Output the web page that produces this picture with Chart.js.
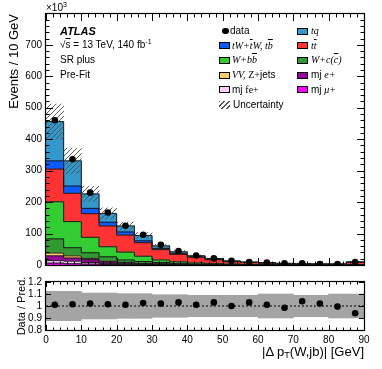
<!DOCTYPE html>
<html><head><meta charset="utf-8">
<script src="https://cdn.jsdelivr.net/npm/chart.js@4/dist/chart.umd.min.js"></script>
<style>
html,body{margin:0;padding:0;background:#fff;}
body{width:382px;height:369px;position:relative;overflow:hidden;font-family:"Liberation Sans",Arial,Helvetica,sans-serif;color:#000;}
canvas{position:absolute;left:0;}
#main{top:0;}
#ratio{top:270px;}
.t{position:absolute;white-space:nowrap;font-size:10px;line-height:12px;}
.m{font-family:"Liberation Serif","Times New Roman",serif;font-style:italic;}
.r{font-family:"Liberation Serif","Times New Roman",serif;}
.ol{text-decoration:overline;}
.box{position:absolute;width:11px;height:7px;border:1px solid #000;box-sizing:border-box;}
sup{font-size:70%;vertical-align:top;position:relative;top:-3px;}
sub{font-size:70%;vertical-align:bottom;position:relative;top:4px;}
</style></head>
<body>
<canvas id="main" width="382" height="280"></canvas>
<canvas id="ratio" width="382" height="99"></canvas>

<div class="t" style="left:46px;top:2px;">×10<sup>3</sup></div>
<div class="t" style="left:60px;top:25px;font-size:11px;font-weight:bold;font-style:italic;">ATLAS</div>
<div class="t" style="left:60px;top:39px;">√<span class="ol">s</span> = 13 TeV, 140 fb<sup>-1</sup></div>
<div class="t" style="left:60px;top:54px;">SR plus</div>
<div class="t" style="left:60px;top:69px;">Pre-Fit</div>

<div id="legend"></div>
<div class="t" style="right:18px;top:344px;font-size:13px;line-height:15px;">|Δ p<sub>T</sub>(W,jb)| [GeV]</div>

<script>
// ---------- data (units of 10^3 events) ----------
const binCenters = [2.5,7.5,12.5,17.5,22.5,27.5,32.5,37.5,42.5,47.5,52.5,57.5,62.5,67.5,72.5,77.5,82.5,87.5];
const xTickValues = [0,10,20,30,40,50,60,70,80,90];
const xTickLabels = ['0','10','20','30','40','50','60','70','80','90'];
const yTickValues = [0,100,200,300,400,500,600,700];
const yTickLabels = ['0','100','200','300','400','500','600','700'];
const ratioTickValues = [0.8,0.9,1.0,1.1,1.2];
const ratioTickLabels = ['0.8','0.9','1','1.1','1.2'];

const mjMu = [6,4,3,2,1,1,0.7,0.5,0.3,0.2,0.15,0.1,0.1,0.08,0.06,0.05,0.04,0.1];
const mjFe = [8,8,5,3,2,1,0.8,0.5,0.3,0.2,0.15,0.1,0.1,0.08,0.06,0.05,0.04,0.1];
const mjE  = [15,10,9,5,3,2,1.5,1,0.6,0.4,0.3,0.2,0.15,0.1,0.1,0.08,0.06,0.15];
const vvZjets = [9,7,4,2,2,1,0.8,0.5,0.3,0.2,0.15,0.1,0.1,0.08,0.06,0.05,0.04,0.1];
const wc   = [45,26,18,14,8,6,4,2.5,1.5,1,0.6,0.4,0.3,0.2,0.15,0.12,0.1,0.3];
const wbb  = [118,83,49,32,25,17,8,5,3.5,2.2,1.4,1.0,0.7,0.5,0.4,0.3,0.25,0.6];
const ttbar= [104,90,75,66,54,43,33,24,18,12.5,8,6,4.8,3.5,3.5,1.9,2,7];
const tW   = [26,23,17,12,10,6,4,3,2,1.3,0.9,0.6,0.4,0.3,0.25,0.2,0.15,0.4];
const tq   = [125,80,46,28,19,17,8,5,3,2.6,1.4,0.9,0.85,0.6,0.5,0.4,0.3,1.3];

const dataVals = [460,336,230,167,125,96,64,44,30,21,13,9.6,7.5,5.3,5.3,3.2,3.0,9.5];
const ratioVals = [1.01,1.015,1.02,1.015,1.01,1.025,1.02,1.03,1.01,1.03,1.0,1.03,1.01,0.985,1.04,1.02,0.995,0.94];
const relUnc = [0.122,0.122,0.108,0.108,0.103,0.103,0.094,0.094,0.089,0.089,0.089,0.089,0.10,0.10,0.089,0.089,0.10,0.10];

const seriesList = [mjMu, mjFe, mjE, vvZjets, wc, wbb, ttbar, tW, tq];
const seriesNames = ['mj μ+','mj fe+','mj e+','VV, Z+jets','W+c(c)','W+bb','tt','tW+tW, tb','tq'];
const seriesColors = ['#ff00ff','#ffccff','#990099','#ffcc66','#339933','#33cc33','#ff3333','#0a5cff','#3399cc'];

const total = binCenters.map((_,i)=>seriesList.reduce((s,a)=>s+a[i],0));

// ---------- helpers ----------
const FONT = '"Liberation Sans", Arial, Helvetica, sans-serif';
function makeHatch(){
  const c=document.createElement('canvas'); c.width=5; c.height=5;
  const g=c.getContext('2d');
  g.strokeStyle='#4d4d4d'; g.lineWidth=0.9;
  g.beginPath();
  g.moveTo(0,5); g.lineTo(5,0);
  g.moveTo(-1,1); g.lineTo(1,-1);
  g.moveTo(4,6); g.lineTo(6,4);
  g.stroke();
  return g.createPattern(c,'repeat');
}

const frameTicks = {
  id:'frameTicks',
  afterDraw(chart, args, o){
    const {ctx, chartArea:{left,right,top,bottom}} = chart;
    const xs = chart.scales.x, ys = chart.scales.y;
    ctx.save();
    ctx.strokeStyle='#000'; ctx.lineWidth=1;
    ctx.beginPath();
    const isMaj=(v,step)=>Math.abs(v/step-Math.round(v/step))<1e-6;
    for(let k=0; ; k++){
      const v = xs.min + k*o.xMinor; if(v>xs.max+1e-9) break;
      const len = isMaj(v,o.xMajor)?o.xMajLen:o.xMinLen;
      const px = Math.round(xs.getPixelForValue(v))+0.5;
      ctx.moveTo(px,bottom); ctx.lineTo(px,bottom-len);
      ctx.moveTo(px,top); ctx.lineTo(px,top+len);
    }
    for(let k=0; ; k++){
      const v = o.yStart + k*o.yMinor; if(v>ys.max+1e-9) break;
      if(v<ys.min-1e-9) continue;
      const len = isMaj(v-o.yStart,o.yMajor)?o.yMajLen:o.yMinLen;
      const py = Math.round(ys.getPixelForValue(v))+0.5;
      ctx.moveTo(left,py); ctx.lineTo(left+len,py);
      ctx.moveTo(right,py); ctx.lineTo(right-len,py);
    }
    ctx.stroke();
    ctx.lineWidth=1.2;
    ctx.strokeRect(left-0.5, top-0.5, right-left+1, bottom-top+1);
    ctx.restore();
  }
};

const UNC_INDEX = 1;
const stepOutline = {
  id:'stepOutline',
  beforeDatasetDraw(chart, args){
    if(args.index !== UNC_INDEX) return;
    const ctx = chart.ctx;
    ctx.save();
    ctx.strokeStyle='#1a1a1a'; ctx.lineWidth=1;
    for(let k=2;k<chart.data.datasets.length;k++){
      const els = chart.getDatasetMeta(k).data;
      ctx.beginPath();
      els.forEach((el,i)=>{
        const xl = el.x-el.width/2, xr = el.x+el.width/2;
        if(i===0) ctx.moveTo(xl, el.y); else ctx.lineTo(xl, el.y);
        ctx.lineTo(xr, el.y);
      });
      ctx.stroke();
    }
    ctx.restore();
  }
};

// ---------- main chart ----------
const hatch = makeHatch();
const stackDatasets = seriesList.map((arr,k)=>({
  type:'bar', label:seriesNames[k],
  data: arr.map((v,i)=>({x:binCenters[i], y:v})),
  backgroundColor: seriesColors[k], borderWidth:0,
  stack:'mc', order:2, grouped:false, barPercentage:1, categoryPercentage:1
}));

new Chart(document.getElementById('main'), {
  type:'bar',
  data:{ datasets:[
    { type:'line', label:'data', data: dataVals.map((v,i)=>({x:binCenters[i], y:v})),
      showLine:false, pointRadius:3.3, pointBackgroundColor:'#000', pointBorderWidth:0, order:0 },
    { type:'bar', label:'Uncertainty', data: total.map((t,i)=>({x:binCenters[i], y:[t*(1-relUnc[i]), t*(1+relUnc[i])]})),
      backgroundColor: hatch, borderWidth:0, stack:'unc', order:1, grouped:false, barPercentage:1, categoryPercentage:1 },
    ...stackDatasets
  ]},
  options:{
    responsive:false, animation:false, devicePixelRatio:1,
    layout:{padding:{left:0,right:18,top:14,bottom:15}},
    plugins:{ legend:{display:false}, tooltip:{enabled:false},
      frameTicks:{xMinor:2,xMajor:10,xMajLen:7,xMinLen:3.5,yStart:0,yMinor:20,yMajor:100,yMajLen:7,yMinLen:3.5} },
    scales:{
      x:{ type:'linear', min:0, max:90, stacked:true, offset:false,
          afterBuildTicks:s=>{ s.ticks = xTickValues.map(v=>({value:v})); },
          ticks:{display:false}, grid:{display:false, drawTicks:false}, border:{display:false},
          afterFit:s=>{ s.height=0; } },
      y:{ type:'linear', min:0, max:798, stacked:true,
          afterBuildTicks:s=>{ s.ticks = yTickValues.map(v=>({value:v})); },
          ticks:{ callback:(v,i)=>yTickLabels[i], font:{family:FONT,size:10}, color:'#000', padding:4, autoSkip:false },
          grid:{display:false, drawTicks:false}, border:{display:false},
          title:{ display:true, text:'Events / 10 GeV', align:'end', color:'#000', font:{family:FONT,size:13}, padding:{top:7,bottom:0} },
          afterFit:s=>{ s.width=46; } }
    }
  },
  plugins:[frameTicks, stepOutline]
});

// ---------- ratio chart ----------
new Chart(document.getElementById('ratio'), {
  type:'bar',
  data:{ datasets:[
    { type:'line', label:'ratio', data: ratioVals.map((v,i)=>({x:binCenters[i], y:v})),
      showLine:false, pointRadius:3.3, pointBackgroundColor:'#000', pointBorderWidth:0, order:0 },
    { type:'line', label:'unity', data:[{x:0,y:1},{x:90,y:1}], borderColor:'#000', borderWidth:1,
      borderDash:[2,2], pointRadius:0, order:1 },
    { type:'bar', label:'band', data: relUnc.map((u,i)=>({x:binCenters[i], y:[1-u,1+u]})),
      backgroundColor:'#a4a4a4', borderWidth:0, order:2, barPercentage:1, categoryPercentage:1 }
  ]},
  options:{
    responsive:false, animation:false, devicePixelRatio:1,
    layout:{padding:{left:0,right:18,top:12,bottom:0}},
    plugins:{ legend:{display:false}, tooltip:{enabled:false},
      frameTicks:{xMinor:2,xMajor:10,xMajLen:5,xMinLen:2.5,yStart:0.8,yMinor:0.1,yMajor:0.1,yMajLen:5,yMinLen:5} },
    scales:{
      x:{ type:'linear', min:0, max:90, offset:false,
          afterBuildTicks:s=>{ s.ticks = xTickValues.map(v=>({value:v})); },
          ticks:{ callback:(v,i)=>xTickLabels[i], font:{family:FONT,size:10}, color:'#000', padding:4, maxRotation:0, autoSkip:false },
          grid:{display:false, drawTicks:false}, border:{display:false},
          afterFit:s=>{ s.height=39; } },
      y:{ type:'linear', min:0.8, max:1.2,
          afterBuildTicks:s=>{ s.ticks = ratioTickValues.map(v=>({value:v})); },
          ticks:{ callback:(v,i)=>ratioTickLabels[i], font:{family:FONT,size:10}, color:'#000', padding:4, autoSkip:false },
          grid:{display:false, drawTicks:false}, border:{display:false},
          title:{ display:true, text:'Data / Pred.', align:'center', color:'#000', font:{family:FONT,size:11}, padding:{top:15,bottom:0} },
          afterFit:s=>{ s.width=46; } }
    }
  },
  plugins:[frameTicks]
});

// ---------- legend ----------
const rowY = [31, 45.7, 60.4, 75.1, 89.8, 104.5];
const col1 = [
  {html:'data', kind:'dot'},
  {html:'<span class="m">tW+<span class="ol">t</span>W, t<span class="ol">b</span></span>', color:seriesColors[7]},
  {html:'<span class="m">W+b<span class="ol">b</span></span>', color:seriesColors[5]},
  {html:'<span class="m">VV,</span> <span class="r">Z+</span>jets', color:seriesColors[3]},
  {html:'mj <span class="r">fe+</span>', color:seriesColors[1]},
  {html:'Uncertainty', kind:'hatch'}
];
const col2 = [
  {html:'<span class="m">tq</span>', color:seriesColors[8]},
  {html:'<span class="m">t<span class="ol">t</span></span>', color:seriesColors[6]},
  {html:'<span class="m">W+c(<span class="ol">c</span>)</span>', color:seriesColors[4]},
  {html:'mj <span class="m">e+</span>', color:seriesColors[2]},
  {html:'mj <span class="m">μ+</span>', color:seriesColors[0]}
];
let lh='';
function addItem(it, y, bx, tx){
  if(it.kind==='dot'){
    lh += `<div style="position:absolute;left:${bx+3}px;top:${y-3.3}px;width:6.6px;height:6.6px;border-radius:50%;background:#000"></div>`;
    lh += `<div class="t" style="left:${tx-2}px;top:${y-6}px">${it.html}</div>`;
  } else if(it.kind==='hatch'){
    lh += `<div style="position:absolute;left:${bx}px;top:${y-4}px;width:11px;height:8px;background:repeating-linear-gradient(135deg,#555 0 0.9px,transparent 0.9px 3.5px)"></div>`;
    lh += `<div class="t" style="left:${tx+1}px;top:${y-6}px">${it.html}</div>`;
  } else {
    lh += `<div class="box" style="left:${bx}px;top:${y-3.5}px;background:${it.color}"></div>`;
    lh += `<div class="t" style="left:${tx}px;top:${y-6}px">${it.html}</div>`;
  }
}
col1.forEach((it,i)=>addItem(it,rowY[i],219,232));
col2.forEach((it,i)=>addItem(it,rowY[i],297,311));
document.getElementById('legend').innerHTML = lh;
</script>
</body></html>
